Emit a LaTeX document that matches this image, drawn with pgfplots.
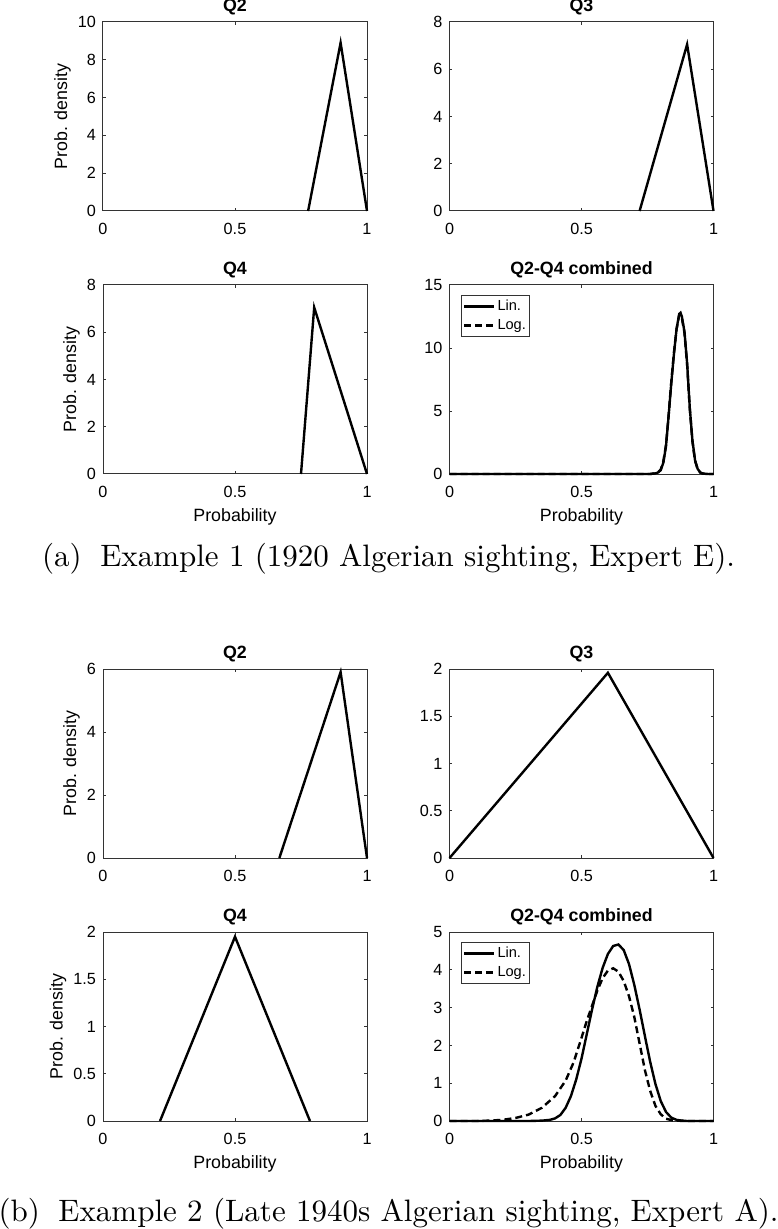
\documentclass[border=0pt]{standalone}
\usepackage{fontspec}
\newfontfamily\hv{Liberation Sans}
\newfontfamily\capfont{lmroman10-regular.otf}
\usepackage{pgfplots}
\pgfplotsset{compat=1.18}

\pgfplotsset{
  mat/.style={
    scale only axis, width=132pt, height=94.5pt,
    xmin=0, xmax=1, ymin=0,
    xtick={0,0.5,1},
    tick align=inside,
    major tick length=1.3pt,
    axis line style={black!80, line width=0.5pt},
    tick style={black!80, line width=0.5pt},
    tick label style={font=\hv\fontsize{8.1}{9}\selectfont},
    /pgf/number format/assume math mode=true,
    label style={font=\hv\fontsize{8.9}{10}\selectfont},
    title style={font=\hv\bfseries\fontsize{8.9}{10}\selectfont, yshift=-6pt},
    xticklabel style={yshift=-2.6pt},
    xlabel style={inner sep=2pt},
    ylabel style={inner sep=0pt},
    clip=false,
  },
  pdf/.style={black, line width=1.2pt},
  comb/.style={
    legend style={at={(0.042,0.947)}, anchor=north west,
      font=\hv\fontsize{7.3}{8}\selectfont, draw=black!80, line width=0.5pt,
      inner xsep=1pt, inner ysep=1pt, row sep=1pt,
      nodes={inner sep=1pt}, cells={anchor=west}},
    legend image code/.code={\draw[##1] (0pt,0pt) -- (15pt,0pt);},
  },
}

\begin{document}
\begin{tikzpicture}
\useasboundingbox (0,0) rectangle (388.5pt,-614.5pt);

% ---- (a) Example 1 ----
\begin{axis}[mat, at={(51.5pt,-11pt)}, anchor=north west,
  title={Q2}, ylabel={Prob. density}, ymax=10, ytick={0,2,...,10}]
  \addplot[pdf] coordinates {(0.777,0) (0.9,8.9) (1,0)};
\end{axis}

\begin{axis}[mat, at={(224.75pt,-11pt)}, anchor=north west,
  title={Q3}, ymax=8, ytick={0,2,...,8}]
  \addplot[pdf] coordinates {(0.72,0) (0.9,7.05) (1,0)};
\end{axis}

\begin{axis}[mat, at={(51.5pt,-142.5pt)}, anchor=north west,
  title={Q4}, ylabel={Prob. density}, xlabel={Probability},
  ymax=8, ytick={0,2,...,8}]
  \addplot[pdf] coordinates {(0.75,0) (0.8,7.05) (1,0)};
\end{axis}

\begin{axis}[mat, comb, at={(224.75pt,-142.5pt)}, anchor=north west,
  title={Q2-Q4 combined}, xlabel={Probability},
  ymax=15, ytick={0,5,10,15}]
  \addplot[pdf] coordinates {
    (0,0) (0.76,0) (0.78,0.05) (0.79,0.12) (0.80,0.3) (0.81,0.9) (0.82,2.2)
    (0.83,4.6) (0.84,7.2) (0.85,9.5) (0.86,11.5) (0.87,12.7) (0.875,12.8)
    (0.88,12.5) (0.89,11.3) (0.90,8.8) (0.91,5.3) (0.92,2.7) (0.93,1.1)
    (0.94,0.4) (0.95,0.12) (0.96,0.03) (0.98,0) (1,0)};
  \addlegendentry{Lin.}
  \addplot[pdf, dash pattern=on 3.5pt off 2pt] coordinates {
    (0,0) (0.76,0) (0.78,0.06) (0.79,0.15) (0.80,0.35) (0.81,1.0) (0.82,2.3)
    (0.83,4.7) (0.84,7.3) (0.85,9.6) (0.86,11.5) (0.87,12.6) (0.875,12.65)
    (0.88,12.4) (0.89,11.2) (0.90,8.7) (0.91,5.2) (0.92,2.6) (0.93,1.05)
    (0.94,0.38) (0.95,0.11) (0.96,0.03) (0.98,0) (1,0)};
  \addlegendentry{Log.}
\end{axis}

\node[anchor=base, font=\capfont\fontsize{15.5}{18}\selectfont] at (194.25pt,-283pt)
  {(a)\hspace{0.6em}Example 1 (1920 Algerian sighting, Expert E).};

% ---- (b) Example 2 ----
\begin{axis}[mat, at={(51.5pt,-334.5pt)}, anchor=north west,
  title={Q2}, ylabel={Prob. density}, ymax=6, ytick={0,2,...,6}]
  \addplot[pdf] coordinates {(0.668,0) (0.9,5.9) (1,0)};
\end{axis}

\begin{axis}[mat, at={(224.75pt,-334.5pt)}, anchor=north west,
  title={Q3}, ymax=2, ytick={0,0.5,...,2}]
  \addplot[pdf] coordinates {(0,0) (0.6,1.96) (1,0)};
\end{axis}

\begin{axis}[mat, at={(51.5pt,-466pt)}, anchor=north west,
  title={Q4}, ylabel={Prob. density}, xlabel={Probability},
  ymax=2, ytick={0,0.5,...,2}]
  \addplot[pdf] coordinates {(0.216,0) (0.5,1.95) (0.784,0)};
\end{axis}

\begin{axis}[mat, comb, at={(224.75pt,-466pt)}, anchor=north west,
  title={Q2-Q4 combined}, xlabel={Probability},
  ymax=5, ytick={0,1,...,5}]
  \addplot[pdf] coordinates {
    (0,0) (0.30,0) (0.35,0.01) (0.38,0.03) (0.40,0.07) (0.42,0.16) (0.44,0.35)
    (0.46,0.66) (0.48,1.1) (0.50,1.65) (0.52,2.3) (0.54,2.95) (0.56,3.55)
    (0.58,4.05) (0.60,4.42) (0.62,4.63) (0.64,4.67) (0.66,4.52) (0.68,4.15)
    (0.70,3.6) (0.72,2.95) (0.74,2.25) (0.76,1.57) (0.78,0.98) (0.80,0.53)
    (0.82,0.24) (0.84,0.09) (0.86,0.03) (0.88,0.01) (0.90,0) (1,0)};
  \addlegendentry{Lin.}
  \addplot[pdf, dash pattern=on 3.5pt off 2pt] coordinates {
    (0,0) (0.10,0) (0.15,0.01) (0.20,0.03) (0.25,0.08) (0.30,0.17) (0.35,0.35)
    (0.40,0.66) (0.44,1.07) (0.47,1.55) (0.50,2.2) (0.52,2.65) (0.54,3.05)
    (0.56,3.45) (0.58,3.78) (0.60,3.98) (0.62,4.04) (0.64,3.95) (0.66,3.7)
    (0.68,3.3) (0.70,2.75) (0.72,2.05) (0.74,1.35) (0.76,0.8) (0.78,0.4)
    (0.80,0.18) (0.82,0.06) (0.85,0.01) (0.90,0) (1,0)};
  \addlegendentry{Log.}
\end{axis}

\node[anchor=base, font=\capfont\fontsize{15.5}{18}\selectfont] at (194.25pt,-610.5pt)
  {(b)\hspace{0.6em}Example 2 (Late 1940s Algerian sighting, Expert A).};
\end{tikzpicture}
\end{document}
